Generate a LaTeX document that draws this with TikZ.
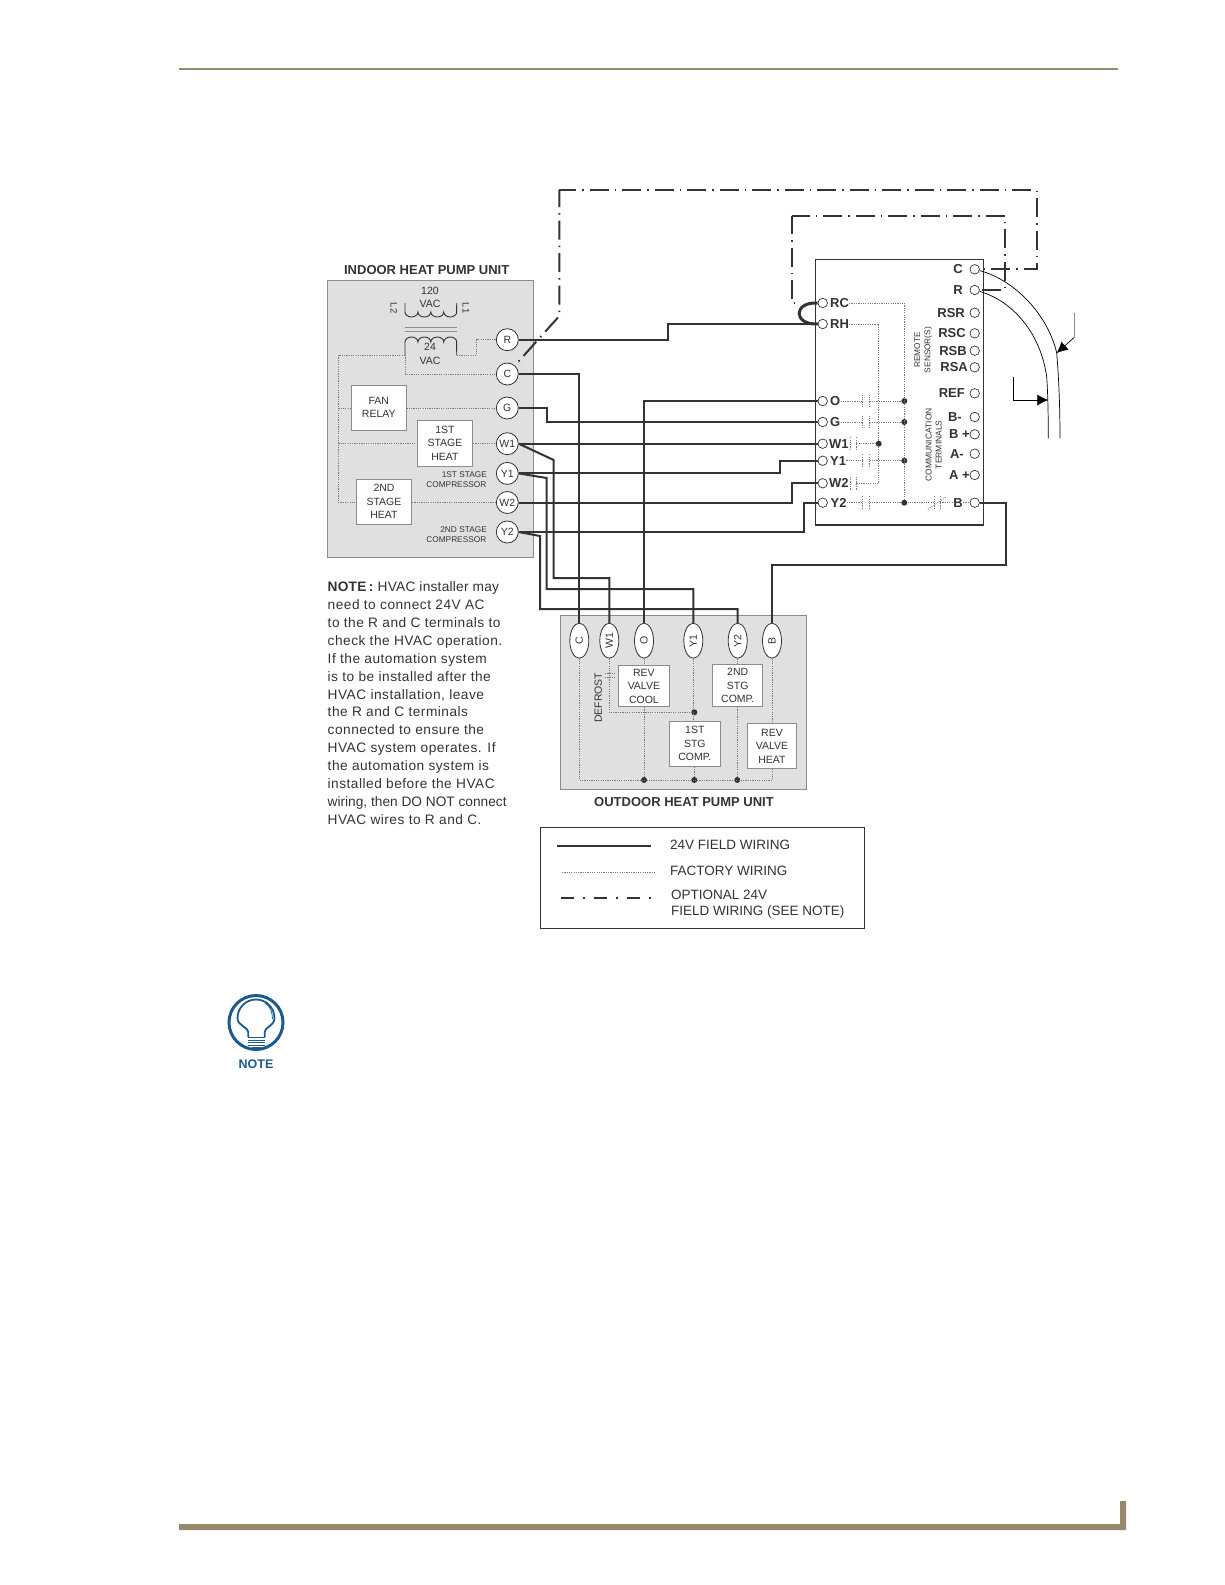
\documentclass[tikz,border=0pt]{standalone}
\usepackage{fontspec}
\setmainfont{Liberation Sans}
\usetikzlibrary{arrows.meta}
\usetikzlibrary{positioning}
\usetikzlibrary{shapes.geometric}
\definecolor{ink}{HTML}{333333}
\definecolor{panel}{HTML}{E0E0E0}
\definecolor{rim}{HTML}{8C8C8C}
\definecolor{trim}{HTML}{958A6B}
\definecolor{noteblue}{HTML}{1A5A8E}
\tikzset {
  % gray unit panels
  unit/.style = {
    draw = rim,
    fill = panel,
    anchor = north west,
    inner sep = 0,
    outer sep = 0,
    line width = 0.8pt
  },
  % relay boxes in the panels
  relay/.style = {
    draw = rim,
    fill = white,
    align = center,
    inner sep = 0,
    line width = 0.9pt,
    text = ink,
    font = \fontsize{10.5}{13.5}\selectfont
  },
  term/.style = {
    draw = ink,
    fill = white,
    circle,
    minimum size = 22pt,
    inner sep = 0,
    line width = 0.8pt,
    text = ink,
    font = \fontsize{10.5}{12}\selectfont
  },
  pod/.style = {
    term,
    ellipse,
    rotate = 90,
    minimum width = 35pt,
    minimum height = 19pt
  },
  port/.style = {
    draw = ink,
    fill = white,
    circle,
    minimum size = 9.5pt,
    inner sep = 0,
    line width = 0.7pt
  },
  portlabel/.style = {
    inner sep = 0,
    text = ink,
    font = \fontsize{13}{14}\selectfont\bfseries
  },
  caption/.style = {
    inner sep = 0,
    text = ink,
    align = center,
    font = \fontsize{8.3}{10.2}\selectfont
  },
  title/.style = {
    inner sep = 0,
    text = ink,
    font = \fontsize{13}{15}\selectfont\bfseries
  },
  plain/.style = {
    inner sep = 0,
    text = ink,
    align = left,
    font = \fontsize{13.5}{16}\selectfont
  },
  dot/.style = {
    fill = ink,
    circle,
    minimum size = 6pt,
    inner sep = 0
  },
  contact/.style = {
    minimum width = 6.6pt,
    minimum height = 12.5pt,
    inner sep = 0
  },
  % 24V wiring
  field/.style = {
    draw = ink,
    line width = 2pt
  },
  % factory wiring
  factory/.style = {
    draw = ink!65,
    line width = 0.7pt,
    dash pattern = on 1.2pt off 1.1pt
  },
  % optional wiring
  optional/.style = {
    draw = ink,
    line width = 2pt,
    dash pattern = on 19pt off 6pt on 1.5pt off 6pt
  },
  thin wire/.style = {
    draw = black,
    line width = 0.7pt
  },
  coil/.style = {
    draw = ink,
    line width = 0.9pt
  }
}

\begin{document}
\begin{tikzpicture}[x=1pt,y=-1pt]
  \useasboundingbox (0,0) rectangle (1225,1585);

  % page rules
  \fill[trim] (179,68) rectangle (1118,70);
  \fill[trim] (179,1524) -- (1120,1524) -- (1120,1501) -- (1126,1501) -- (1126,1530) -- (179,1530) -- cycle;

  % panels
  \node[unit, minimum width = 205.7pt, minimum height = 276.6pt] (indoor) at (327.3,280.7) {};
  \node[title] (indoortitle) at (426.7,270) {INDOOR HEAT PUMP UNIT};
  \node[unit, minimum width = 246.7pt, minimum height = 173.6pt] (outdoor) at (560,615.7) {};
  \node[title] (outdoortitle) at (684,802) {OUTDOOR HEAT PUMP UNIT};
  \node[unit, fill = white, draw = ink, line width = 1.1pt, minimum width = 167.6pt, minimum height = 265.7pt] (ctrl) at (815.7,259.3) {};

  % transformer
  \draw[coil] (405,303) -- (405,312)
    arc[start angle=180, end angle=0, x radius=6.46, y radius=5]
    arc[start angle=180, end angle=0, x radius=6.46, y radius=5]
    arc[start angle=180, end angle=0, x radius=6.46, y radius=5]
    arc[start angle=180, end angle=0, x radius=6.46, y radius=5] -- (456.7,303);
  \draw[rim, line width = 0.9pt] (405,327.7) -- (456.7,327.7) (405,331) -- (456.7,331);
  \coordinate (coilleft) at (405,355);
  \coordinate (coilright) at (456.7,355);
  \draw[coil] (coilleft) -- (405,342)
    arc[start angle=180, end angle=360, x radius=6.46, y radius=5]
    arc[start angle=180, end angle=360, x radius=6.46, y radius=5]
    arc[start angle=180, end angle=360, x radius=6.46, y radius=5]
    arc[start angle=180, end angle=360, x radius=6.46, y radius=5] -- (coilright);
  \node[caption, font = \fontsize{10.5}{13.5}\selectfont] (primary) at (430,297.5) {120\\VAC};
  \node[caption, font = \fontsize{10.5}{14}\selectfont] (secondary) at (430,353.5) {24\\VAC};
  \node[caption, font = \fontsize{9.5}{11}\selectfont, rotate = -90] (ltwo) at (394,308) {L2};
  \node[caption, font = \fontsize{9.5}{11}\selectfont, rotate = -90] (lone) at (466,308) {L1};

  % indoor unit
  \node[relay, minimum width = 54.3pt, minimum height = 44.7pt] (fan) at (378.8,407.6) {FAN\\RELAY};
  \node[relay, minimum width = 55.4pt, minimum height = 45.7pt] (stageone) at (445,443.1) {1ST\\STAGE\\HEAT};
  \node[relay, minimum width = 55.4pt, minimum height = 45pt] (stagetwo) at (384,501.8) {2ND\\STAGE\\HEAT};
  \node[caption, anchor = east] (compone) at (487,474.5) {1ST STAGE};
  \node[caption, anchor = east] (comptwo) at (486.5,484.8) {COMPRESSOR};
  \node[caption, anchor = east] (compthree) at (487,529.2) {2ND STAGE};
  \node[caption, anchor = east] (compfour) at (486.5,539.5) {COMPRESSOR};
  \foreach \tname/\ty in {R/339.7,C/374,G/408,W1/443.7,Y1/473.4,W2/502.5,Y2/532}
    \node[term] (in\tname) at (507.3,\ty) {\tname};

  \coordinate (railtop) at (338.3,355);
  \coordinate (railbot) at (338.3,502.5);
  \coordinate (railfan) at (338.3,408);
  \coordinate (railone) at (338.3,443.7);
  \draw[factory] (coilright) -- (476.7,355) |- (inR);
  \draw[factory] (coilleft) -- (railtop) -- (railbot) -- (stagetwo.west |- railbot);
  \draw[factory] (coilleft) |- (inC);
  \draw[factory] (railfan) -- (fan.west |- railfan);
  \draw[factory] (railone) -- (stageone.west |- railone);
  \draw[factory] (fan.east |- inG) -- (inG);
  \draw[factory] (stageone.east |- inW1) -- (inW1);
  \draw[factory] (stagetwo.east |- inW2) -- (inW2);

  % controller ports
  \foreach \pname/\py/\px in {RC/303/830,RH/324/830,O/401/830,G/422/830,W1/443.7/829,Y1/460.7/830,W2/483.3/829,Y2/502.7/830.5} {
    \node[port] (p\pname) at (822.7,\py) {};
    \node[portlabel, anchor = west] (l\pname) at (\px,\py) {\pname};
  }
  \foreach \pname/\pshow/\py/\px in {C/C/269.3/963,R/R/290/963,RSR/RSR/312.7/965,RSC/RSC/333.3/966,RSB/RSB/350.7/967,RSA/RSA/367.3/968,REF/REF/393.3/965,Bm/B-/417/962,Bp/B +/434.3/970,Am/A-/453.7/964,Ap/A +/475/970,B/B/502.7/963} {
    \node[port] (r\pname) at (974.7,\py) {};
    \node[portlabel, anchor = east] (s\pname) at (\px,\py) {\pshow};
  }
  \node[caption, rotate = 90] (remote) at (923.3,350) {REMOTE\\SENSOR(S)};
  \node[caption, rotate = 90, font = \fontsize{8.5}{10}\selectfont] (comms) at (933.7,444.7) {COMMUNICATION\\TERMINALS};

  % controller contacts
  \foreach \cname/\cy in {O/401,G/422,Y1/460.7,Y2/502.7} {
    \node[dot] (d\cname) at (904.3,\cy) {};
    \node[contact] (c\cname) at (866,\cy) {};
    \draw[factory] (l\cname) -- (c\cname.west) (c\cname.east) -- (d\cname);
    \draw[factory] (c\cname.north west) -- (c\cname.south west) (c\cname.north east) -- (c\cname.south east);
  }
  \foreach \cname/\cy in {W1/443.7,W2/483.3} {
    \node[contact, minimum width = 5pt] (c\cname) at (853.5,\cy) {};
    \draw[factory] (c\cname.north west) -- (c\cname.south west) (c\cname.north east) -- (c\cname.south east);
  }
  \node[dot] (dW1) at (878.7,443.7) {};
  \node[contact, minimum width = 5pt] (cB) at (937.3,502.7) {};
  \draw[factory] (cB.north west) -- (cB.south west) (cB.north east) -- (cB.south east);
  \draw[factory] (927.7,509.3) -- (946.7,496.7);
  \draw[factory] (lRC) -| (dY2);
  \draw[factory] (lRH) -| (dW1);
  \draw[factory] (dW1) |- (cW2.east);
  \draw[factory] (cW1.east) -- (dW1);
  \draw[factory] (dY2) -- (cB.west) (cB.east) -- (sB) (sB) -- (rB);

  % outdoor unit
  \foreach \oname/\ox in {C/579.3,W1/609.3,O/644,Y1/693.3,Y2/737.7,B/772}
    \node[pod] (out\oname) at (\ox,640.7) {\oname};
  \node[relay, minimum width = 50.3pt, minimum height = 41.4pt] (revcool) at (643.9,686) {REV\\VALVE\\COOL};
  \node[relay, minimum width = 50pt, minimum height = 42.4pt] (stgtwo) at (737.7,685.5) {2ND\\STG\\COMP.};
  \node[relay, minimum width = 50.3pt, minimum height = 45pt] (stgone) at (694.8,743.8) {1ST\\STG\\COMP.};
  \node[relay, minimum width = 49.4pt, minimum height = 44.6pt] (revheat) at (772,746) {REV\\VALVE\\HEAT};
  \node[caption, rotate = 90, font = \fontsize{10.5}{12}\selectfont] (defrost) at (598.3,697.7) {DEFROST};
  \node[dot] (dcool) at (644,780) {};
  \node[dot] (done) at (694.3,780) {};
  \node[dot] (dtwo) at (737.3,780) {};
  \node[dot] (dfrost) at (694.3,712.3) {};
  \coordinate (retleft) at (579.3,780);
  \coordinate (retright) at (772.3,780);
  \draw[factory] (outC) -- (retleft) -- (retright) -- (revheat.south -| retright);
  \draw[factory] (outW1) |- (dfrost);
  \draw[factory] (outY1) -- (stgone.north -| outY1);
  \draw[factory] (outO) -- (revcool.north -| outO);
  \draw[factory] (outY2) -- (stgtwo.north -| outY2);
  \draw[factory] (outB) -- (revheat.north -| outB);
  \draw[factory] (revcool.south -| dcool) -- (dcool);
  \draw[factory] (stgtwo.south -| dtwo) -- (dtwo);
  \draw[factory] (stgone.south -| done) -- (done);
  \draw[factory, densely dotted] (605,673.3) -- (615,673.3) (605,677.3) -- (615,677.3);

  % 24V field wiring
  \draw[field] (inR) -- (668,339.7) |- (pRH);
  \draw[field] (inC) -| (outC);
  \draw[field] (inG) -- (546.7,408) |- (pG);
  \draw[field] (pO) -| (outO);
  \draw[field] (inW1) -- (pW1);
  \draw[field] (inY1) -- (780,473.4) |- (pY1);
  \draw[field] (inW2) -- (791.7,502.5) |- (pW2);
  \draw[field] (inY2) -- (804.3,532) |- (pY2);
  \draw[field] (inW1.east) -- (553.7,460) -- (553.7,578) -| (outW1);
  \draw[field] (inY1.east) -- (546.7,478) -- (546.7,589) -| (outY1);
  \draw[field] (inY2.east) -- (540,536) -- (540,609) -| (outY2);
  \draw[field] (rB) -- (1006,502.7) -- (1006,565) -| (outB);
  \draw[field, line width = 3pt] (pRC.west) .. controls (793,301.7) and (793,325) .. (pRH.west);

  % optional wiring
  \coordinate (optdiag) at (559.3,316);
  \coordinate (opttop) at (559.3,190);
  \coordinate (optright) at (1036.7,190);
  \coordinate (optdown) at (1036.7,269.3);
  \coordinate (innerrc) at (791.7,303);
  \coordinate (innertail) at (797,303);
  \coordinate (innertop) at (791.7,216);
  \coordinate (innerright) at (1005,216);
  \coordinate (innerdown) at (1005,290);
  \draw[optional, dash phase = 2pt] (opttop) -- (optdiag) -- (inC);
  \draw[optional, dash phase = 2pt] (opttop) -- (optright) -- (optdown) -- (rC);
  \draw[optional, dash phase = 1pt] (innertop) -- (innerrc) -- (innertail);
  \draw[optional, dash phase = 1pt] (innertop) -- (innerright) -- (innerdown) -- (rR);

  % cable to the remote sensors
  \coordinate (cablemidc) at (1056.7,353);
  \coordinate (cablemidr) at (1046.7,376.7);
  \coordinate (cablec) at (1060,438.3);
  \coordinate (cabler) at (1048.3,438.3);
  \draw[thin wire] (rC) .. controls (1015,280) and (1048,315) .. (cablemidc) .. controls (1059,380) and (1060,410) .. (cablec);
  \draw[thin wire] (rR) .. controls (1010,300) and (1040,330) .. (cablemidr) .. controls (1048,395) and (1048.3,420) .. (cabler);
  \draw[thin wire, -{Latex[length=11pt,width=11pt]}] (1013.3,376.7) |- (1048.3,400);
  \draw[thin wire, draw = rim] (1074.3,313.3) -- (1074.3,337.3);
  \draw[thin wire, -{Latex[length=11pt,width=11pt]}] (1074.3,337.3) -- (cablemidc);

  % note text
  \node[plain, anchor = north west, font = \fontsize{13.7}{17.9}\selectfont\addfontfeature{LetterSpace=3.6}] (notetext) at (327.5,581.5) {{\addfontfeature{LetterSpace=1.8}\textbf{NOTE\,:} HVAC installer may}\\need to connect 24V AC\\to the R and C terminals to\\check the HVAC operation.\\If the automation system\\is to be installed after the\\HVAC installation, leave\\the R and C terminals\\connected to ensure the\\HVAC system operates. If\\the automation system is\\installed before the HVAC\\{\addfontfeature{LetterSpace=0}wiring, then DO NOT connect}\\HVAC wires to R and C.};

  % legend
  \node[unit, fill = white, draw = ink, minimum width = 324pt, minimum height = 101pt] (legend) at (540,827) {};
  \node[plain, anchor = west] (legfield) at (670,845) {24V FIELD WIRING};
  \node[plain, anchor = west] (legfactory) at (670,871) {FACTORY WIRING};
  \node[plain, anchor = west, font = \fontsize{13.5}{16.7}\selectfont] (legoption) at (671,904.3) {OPTIONAL 24V\\FIELD WIRING (SEE NOTE)};
  \coordinate (legfieldstart) at (557,846);
  \coordinate (legfieldend) at (651,846);
  \coordinate (legfactorystart) at (562,872.3);
  \coordinate (legfactoryend) at (655,872.3);
  \coordinate (legoptionstart) at (560.7,898.3);
  \coordinate (legoptionend) at (651,898.3);
  \draw[field] (legfieldstart) -- (legfieldend);
  \draw[factory] (legfactorystart) -- (legfactoryend);
  \draw[optional, dash pattern = on 13.5pt off 9pt on 2pt off 8.5pt] (legoptionstart) -- (legoptionend);

  % note icon
  \draw[noteblue, line width = 3pt] (256,1022.5) circle [radius = 27];
  \draw[noteblue, line width = 1.8pt] (248.3,1037) -- (248.3,1032) .. controls (248.3,1027) and (237.5,1026) .. (237.5,1018)
    arc[start angle=180, end angle=360, radius=18.5]
    .. controls (274.5,1026) and (264.7,1027) .. (264.7,1032) -- (264.7,1037);
  \draw[noteblue, line width = 0.8pt] (265,1003) .. controls (270,1006) and (272.5,1012) .. (272.5,1019);
  \foreach \by in {1037.5,1040,1042.5,1045}
    \draw[noteblue, line width = 1pt] (248.3,\by) -- (264.7,\by);
  \draw[noteblue, line width = 1.5pt] (252,1047.5) -- (261,1047.5);
  \node[inner sep = 0, text = noteblue, font = \fontsize{12.5}{14}\selectfont\bfseries] (notehead) at (256,1063.8) {NOTE};
\end{tikzpicture}
\end{document}
